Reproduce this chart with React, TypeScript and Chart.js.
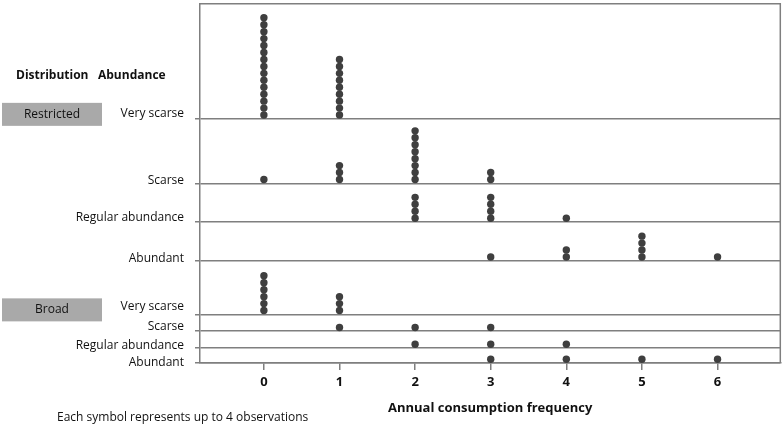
import { useEffect, useRef } from 'react';
import { Chart, registerables } from 'chart.js';

Chart.register(...registerables);

const FONT = "'Open Sans', 'DejaVu Sans', sans-serif";

// frequency categories on the x axis
const frequencies = [0, 1, 2, 3, 4, 5, 6];

const distributions = ['Restricted', 'Broad'];
const abundances = ['Very scarse', 'Scarse', 'Regular abundance', 'Abundant'];

// number of symbols per frequency (each symbol = up to 4 observations)
const restrictedVeryScarse = [15, 9, 0, 0, 0, 0, 0];
const restrictedScarse = [1, 3, 8, 2, 0, 0, 0];
const restrictedRegular = [0, 0, 4, 4, 1, 0, 0];
const restrictedAbundant = [0, 0, 0, 1, 2, 4, 1];
const broadVeryScarse = [6, 3, 0, 0, 0, 0, 0];
const broadScarse = [0, 1, 1, 1, 0, 0, 0];
const broadRegular = [0, 0, 1, 1, 1, 0, 0];
const broadAbundant = [0, 0, 0, 1, 1, 1, 1];

const panels = [
  restrictedVeryScarse,
  restrictedScarse,
  restrictedRegular,
  restrictedAbundant,
  broadVeryScarse,
  broadScarse,
  broadRegular,
  broadAbundant,
];

// layout: baseline of each panel, in symbol-height units on the y scale
const panelBase = [35.14, 25.86, 20.29, 14.71, 7.0, 4.57, 2.14, 0];
const labelDy = [-5, -3, -4, -2, -8, -5, -3, 0];

const GRID = '#7f7f7f';
const DOT = '#3f3f3f';
const TEXT = '#111';

export default function App() {
  const canvasRef = useRef<HTMLCanvasElement | null>(null);
  const chartRef = useRef<Chart | null>(null);

  useEffect(() => {
    const ctx = canvasRef.current?.getContext('2d');
    if (!ctx) return;
    if (chartRef.current) chartRef.current.destroy();

    const points: { x: number; y: number }[] = [];
    panels.forEach((counts, p) => {
      counts.forEach((n, i) => {
        for (let k = 0; k < n; k++) {
          points.push({ x: frequencies[i], y: panelBase[p] + 0.55 + k });
        }
      });
    });

    const sidePlugin = {
      id: 'sideLabels',
      afterDraw(chart: Chart) {
        const c = chart.ctx;
        const area = chart.chartArea;
        const ys = chart.scales.y;
        c.save();
        // top and right frame
        c.strokeStyle = GRID;
        c.lineWidth = 1.5;
        c.beginPath();
        c.moveTo(area.left, area.top);
        c.lineTo(area.right, area.top);
        c.lineTo(area.right, area.bottom);
        c.stroke();

        c.fillStyle = TEXT;
        c.textBaseline = 'middle';
        c.font = `12px ${FONT}`;
        c.textAlign = 'right';
        panelBase.forEach((b, i) => {
          c.fillText(abundances[i % 4], area.left - 16, ys.getPixelForValue(b) + labelDy[i]);
        });

        // distribution boxes
        distributions.forEach((d, j) => {
          const yc = ys.getPixelForValue(panelBase[j * 4]) - 4.5;
          c.fillStyle = '#a9a9a9';
          c.fillRect(2, yc - 11.5, 100, 23);
          c.fillStyle = TEXT;
          c.textAlign = 'center';
          c.fillText(d, 52, yc);
        });

        c.font = `bold 12px ${FONT}`;
        c.textAlign = 'left';
        c.fillText('Distribution', 16, 76);
        c.fillText('Abundance', 98, 76);

        c.font = `12px ${FONT}`;
        c.fillText('Each symbol represents up to 4 observations', 57, 418);
        c.restore();
      },
    };

    chartRef.current = new Chart(ctx, {
      type: 'scatter',
      data: {
        datasets: [
          {
            data: points,
            backgroundColor: DOT,
            borderWidth: 0,
            pointRadius: 3.7,
            pointHoverRadius: 3.7,
          },
        ],
      },
      options: {
        responsive: false,
        animation: false,
        layout: { padding: { top: 1, right: 2, left: 0, bottom: 0 } },
        plugins: {
          legend: { display: false },
          tooltip: { enabled: false },
        },
        scales: {
          x: {
            type: 'linear',
            min: -0.845,
            max: 6.83,
            afterFit(scale: any) {
              scale.height = 62;
            },
            afterBuildTicks(scale: any) {
              scale.ticks = frequencies.map((v) => ({ value: v }));
            },
            grid: {
              drawOnChartArea: false,
              drawTicks: true,
              tickLength: 7,
              color: GRID,
              lineWidth: 1.5,
            },
            border: { display: true, color: GRID, width: 1.5 },
            ticks: {
              color: TEXT,
              padding: 4,
              font: { family: FONT, size: 13, weight: 'bold' },
            },
            title: {
              display: true,
              text: 'Annual consumption frequency',
              color: TEXT,
              font: { family: FONT, size: 13, weight: 'bold' },
              padding: { top: 0, bottom: 9 },
            },
          },
          y: {
            type: 'linear',
            min: 0,
            max: 362 / 7,
            afterFit(scale: any) {
              scale.width = 200;
            },
            afterBuildTicks(scale: any) {
              scale.ticks = panelBase.map((v) => ({ value: v }));
            },
            grid: {
              drawTicks: true,
              tickLength: 5,
              color: GRID,
              lineWidth: 1.5,
            },
            border: { display: true, color: GRID, width: 1.5 },
            ticks: { display: false },
          },
        },
      },
      plugins: [sidePlugin],
    });

    return () => {
      if (chartRef.current) {
        chartRef.current.destroy();
        chartRef.current = null;
      }
    };
  }, []);

  return (
    <div style={{ position: 'absolute', left: 0, top: 0, width: 784, height: 425, background: '#fff' }}>
      <canvas ref={canvasRef} width={784} height={425}></canvas>
    </div>
  );
}
